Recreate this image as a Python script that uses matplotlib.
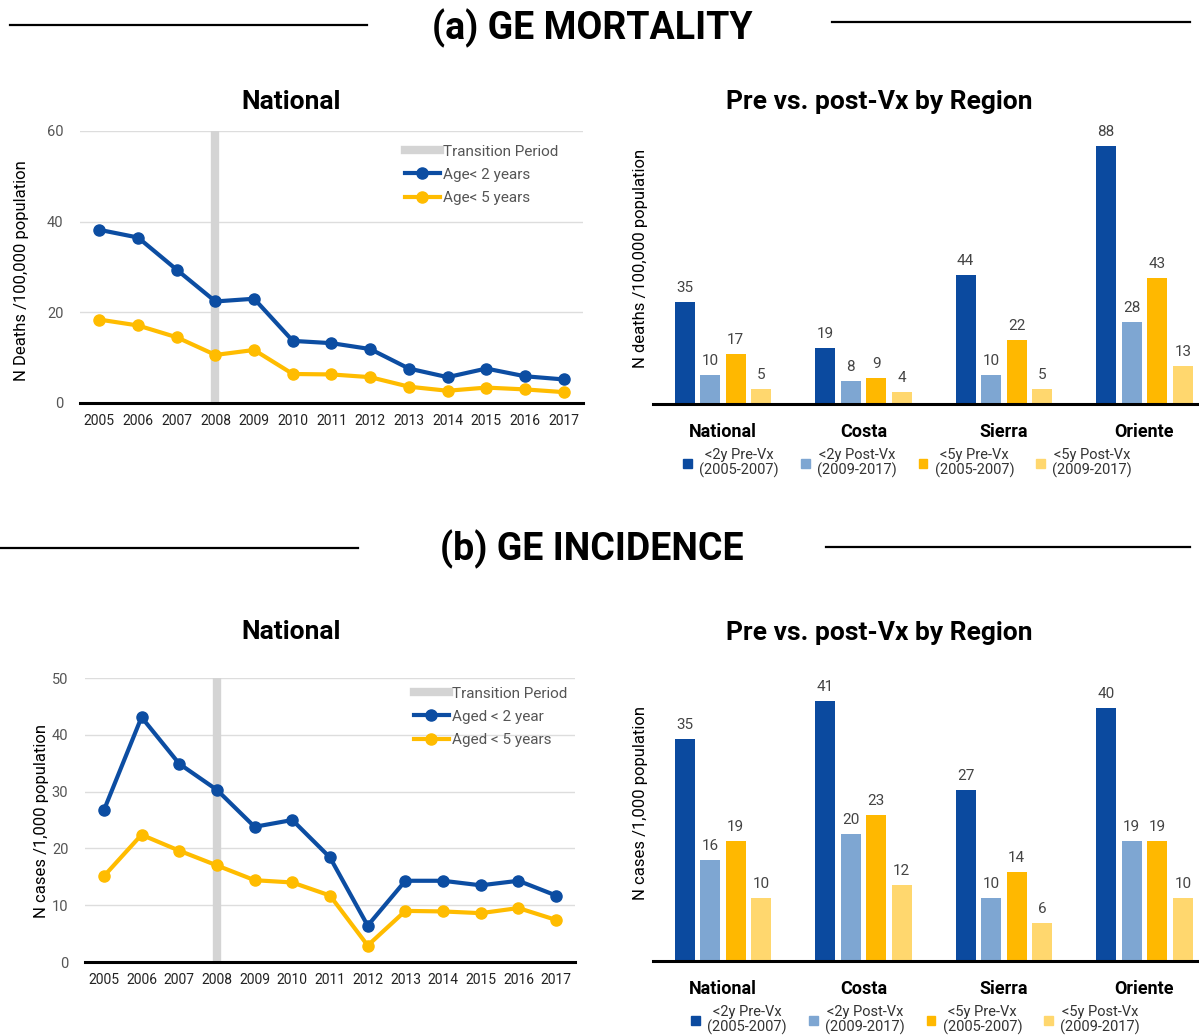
import matplotlib
matplotlib.use("Agg")
import matplotlib.pyplot as plt
from matplotlib.lines import Line2D
from matplotlib.patches import Patch

W, H = 1199, 1035

years = list(range(2005, 2018))
transition_year = 2008
mort_u2 = [38.2, 36.5, 29.4, 22.4, 23.0, 13.7, 13.2, 11.9, 7.6, 5.7, 7.6, 5.9, 5.2]
mort_u5 = [18.4, 17.1, 14.5, 10.6, 11.7, 6.4, 6.3, 5.7, 3.6, 2.7, 3.4, 3.0, 2.4]
inc_u2 = [26.7, 43.1, 34.9, 30.3, 23.8, 25.0, 18.4, 6.4, 14.3, 14.3, 13.5, 14.3, 11.7]
inc_u5 = [15.1, 22.4, 19.6, 17.0, 14.4, 14.0, 11.7, 2.9, 9.0, 8.9, 8.6, 9.5, 7.4]

regions = ["National", "Costa", "Sierra", "Oriente"]
bar_labels = ["<2y Pre-Vx\n(2005-2007)", "<2y Post-Vx\n(2009-2017)",
              "<5y Pre-Vx\n(2005-2007)", "<5y Post-Vx\n(2009-2017)"]
mort_bars = [[35, 19, 44, 88], [10, 8, 10, 28], [17, 9, 22, 43], [5, 4, 5, 13]]
inc_bars = [[35, 41, 27, 40], [16, 20, 10, 19], [19, 23, 14, 19], [10, 12, 6, 10]]

BLUE = "#0C4DA2"
YELLOW = "#FFBC00"
GREY = "#D4D4D4"
bar_colors = ["#0B4A9F", "#7EA6D2", "#FFB800", "#FFD76E"]

plt.rcParams["font.family"] = ["Roboto", "DejaVu Sans"]


def px_axes(fig, left, top, right, bottom):
    return fig.add_axes([left / W, 1 - bottom / H, (right - left) / W, (bottom - top) / H])


def line_panel(ax, u2, u5, ymax, ystep, names, leg_xy):
    ax.axvline(transition_year, color=GREY, lw=6, zorder=1, label="Transition Period")
    ax.plot(years, u2, color=BLUE, lw=3, marker="o", ms=8, zorder=3, label=names[0])
    ax.plot(years, u5, color=YELLOW, lw=3, marker="o", ms=8, zorder=3, label=names[1])
    ax.set_xlim(2004.5, 2017.5)
    ax.set_ylim(0, ymax)
    ax.set_xticks(years)
    ax.set_yticks(range(0, ymax + 1, ystep))
    ax.grid(axis="y", color="#DDDDDD", lw=1)
    ax.set_axisbelow(True)
    for s in ["left", "top", "right"]:
        ax.spines[s].set_visible(False)
    ax.spines["bottom"].set_linewidth(2.2)
    ax.spines["bottom"].set_zorder(4)
    ax.tick_params(axis="x", length=0, pad=8, labelsize=10, labelcolor="#222222")
    ax.tick_params(axis="y", length=0, pad=12, labelsize=10.5, labelcolor="#555555")
    ax.legend(loc="upper right", bbox_to_anchor=(leg_xy[0] / W, 1 - leg_xy[1] / H),
              bbox_transform=ax.figure.transFigure, frameon=False, fontsize=11,
              handlelength=2.3, handletextpad=0.2, labelspacing=0.6, borderpad=0,
              labelcolor="#555555")


def bar_panel(ax, values, ymax, leg_xy):
    xs = list(range(len(regions)))
    for i, (vals, col) in enumerate(zip(values, bar_colors)):
        pos = [x + (i - 1.5) * 0.182 for x in xs]
        bars = ax.bar(pos, vals, width=0.143, color=col, label=bar_labels[i], zorder=2)
        ax.bar_label(bars, labels=[str(v) for v in vals], padding=5, fontsize=11,
                     color="#444444")
    ax.set_xlim(-0.498, 3.388)
    ax.set_ylim(0, ymax)
    ax.set_yticks([])
    ax.set_xticks(xs)
    ax.set_xticklabels(regions, fontweight="bold", fontsize=13)
    ax.tick_params(axis="x", length=0, pad=14)
    for s in ["left", "top", "right"]:
        ax.spines[s].set_visible(False)
    ax.spines["bottom"].set_linewidth(2.2)
    handles = [Patch(color=c) for c in bar_colors]
    leg = ax.legend(handles, bar_labels, loc="upper left", ncol=4,
                    bbox_to_anchor=(leg_xy[0] / W, 1 - leg_xy[1] / H),
                    bbox_transform=ax.figure.transFigure, frameon=False, fontsize=10.5,
                    handlelength=0.6, handleheight=0.6, handletextpad=0.5,
                    columnspacing=1.5, borderpad=0, labelcolor="#333333")
    for t in leg.get_texts():
        t.set_multialignment("center")
        t.set_linespacing(1.0)


fig = plt.figure(figsize=(W / 100, H / 100), dpi=100)

# section headers
for text, ty, segs in [("(a) GE MORTALITY", 28, [(10, 367, 25), (832, 1190, 22)]),
                       ("(b) GE INCIDENCE", 549, [(0, 358, 548), (826, 1190, 547)])]:
    fig.text(592 / W, 1 - ty / H, text, ha="center", va="center", fontsize=27,
             fontweight="bold", color="black")
    for x0, x1, y in segs:
        fig.add_artist(Line2D([x0 / W, x1 / W], [1 - y / H, 1 - y / H], color="black", lw=1.6))

# (a) national mortality
ax1 = px_axes(fig, 80, 131, 583, 403)
line_panel(ax1, mort_u2, mort_u5, 60, 20, ["Age< 2 years", "Age< 5 years"], (566, 137))
fig.text(291 / W, 1 - 102 / H, "National", ha="center", va="center", fontsize=19,
         fontweight="bold")
fig.text(22 / W, 1 - 271 / H, "N Deaths /100,000 population", rotation=90, ha="center",
         va="center", fontsize=12)

# (a) by region
ax2 = px_axes(fig, 653, 120, 1199, 404)
bar_panel(ax2, mort_bars, 97, (676, 441))
fig.text(879 / W, 1 - 102 / H, "Pre vs. post-Vx by Region", ha="center", va="center",
         fontsize=19, fontweight="bold")
fig.text(640 / W, 1 - 258 / H, "N deaths /100,000 population", rotation=90, ha="center",
         va="center", fontsize=12)

# (b) national incidence
ax3 = px_axes(fig, 85, 678, 575, 962)
line_panel(ax3, inc_u2, inc_u5, 50, 10, ["Aged < 2 year", "Aged < 5 years"], (575, 679))
fig.text(291 / W, 1 - 632 / H, "National", ha="center", va="center", fontsize=19,
         fontweight="bold")
fig.text(42 / W, 1 - 821 / H, "N cases /1,000 population", rotation=90, ha="center",
         va="center", fontsize=12)

# (b) by region
ax4 = px_axes(fig, 653, 676, 1199, 961)
bar_panel(ax4, inc_bars, 45, (684, 998))
fig.text(879 / W, 1 - 633 / H, "Pre vs. post-Vx by Region", ha="center", va="center",
         fontsize=19, fontweight="bold")
fig.text(640 / W, 1 - 803 / H, "N cases /1,000 population", rotation=90, ha="center",
         va="center", fontsize=12)

fig.savefig("out.png", dpi=100)
